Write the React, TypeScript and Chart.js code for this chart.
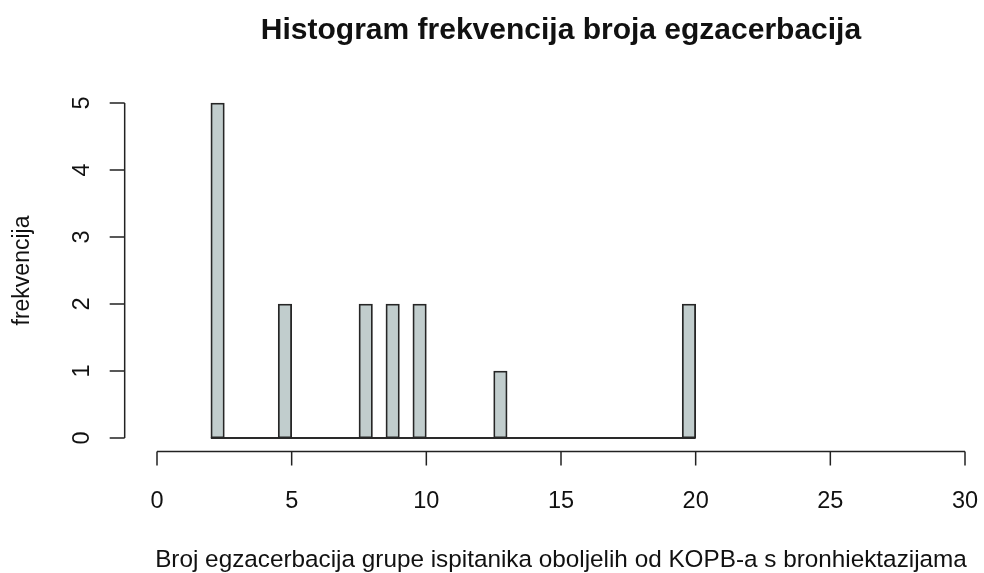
import React, { useEffect, useRef } from "react";
import { Chart, registerables } from "chart.js";

Chart.register(...registerables);

const titleText = "Histogram frekvencija broja egzacerbacija";
const xAxisTitle = "Broj egzacerbacija grupe ispitanika oboljelih od KOPB-a s bronhiektazijama";
const yAxisTitle = "frekvencija";

// histogram bin midpoints (bin width 0.5, from 2 to 20)
const binMids = [
  2.25, 2.75, 3.25, 3.75, 4.25, 4.75, 5.25, 5.75, 6.25, 6.75, 7.25, 7.75,
  8.25, 8.75, 9.25, 9.75, 10.25, 10.75, 11.25, 11.75, 12.25, 12.75, 13.25, 13.75,
  14.25, 14.75, 15.25, 15.75, 16.25, 16.75, 17.25, 17.75, 18.25, 18.75, 19.25, 19.75,
];
const counts = [
  5, 0, 0, 0, 0, 2, 0, 0, 0, 0, 0, 2,
  0, 2, 0, 2, 0, 0, 0, 0, 0, 1, 0, 0,
  0, 0, 0, 0, 0, 0, 0, 0, 0, 0, 0, 2,
];
const baseRange = [2, 20];
const xTicks = [0, 5, 10, 15, 20, 25, 30];
const yTicks = [0, 1, 2, 3, 4, 5];

const FONT = "'Liberation Sans', Arial, sans-serif";

const rAxesPlugin = {
  id: "rAxes",
  afterDraw(chart: any) {
    const ctx = chart.ctx as CanvasRenderingContext2D;
    const xs = chart.scales.x;
    const ys = chart.scales.y;
    const xPad = (xTicks[xTicks.length - 1] - xTicks[0]) * 0.04;
    const yPad = (yTicks[yTicks.length - 1] - yTicks[0]) * 0.04;
    const axisY = ys.getPixelForValue(yTicks[0] - yPad);
    const axisX = xs.getPixelForValue(xTicks[0] - xPad);
    ctx.save();
    ctx.strokeStyle = "#222";
    ctx.lineWidth = 1.5;
    ctx.lineCap = "butt";
    // x axis
    ctx.beginPath();
    const x0 = xs.getPixelForValue(xTicks[0]);
    const x1 = xs.getPixelForValue(xTicks[xTicks.length - 1]);
    ctx.moveTo(x0, axisY);
    ctx.lineTo(x1, axisY);
    xTicks.forEach((t) => {
      const p = xs.getPixelForValue(t);
      ctx.moveTo(p, axisY);
      ctx.lineTo(p, axisY + 14);
    });
    // y axis
    const y0 = ys.getPixelForValue(yTicks[0]);
    const y1 = ys.getPixelForValue(yTicks[yTicks.length - 1]);
    ctx.moveTo(axisX, y0);
    ctx.lineTo(axisX, y1);
    yTicks.forEach((t) => {
      const p = ys.getPixelForValue(t);
      ctx.moveTo(axisX, p);
      ctx.lineTo(axisX - 15, p);
    });
    ctx.stroke();

    ctx.fillStyle = "#111";
    ctx.font = `23.5px ${FONT}`;
    ctx.textAlign = "center";
    ctx.textBaseline = "alphabetic";
    xTicks.forEach((t) => {
      ctx.fillText(String(t), xs.getPixelForValue(t), 508);
    });
    yTicks.forEach((t) => {
      ctx.save();
      ctx.translate(89, ys.getPixelForValue(t));
      ctx.rotate(-Math.PI / 2);
      ctx.fillText(String(t), 0, 0);
      ctx.restore();
    });
    // axis titles
    const cx = (axisX + xs.getPixelForValue(xTicks[xTicks.length - 1] + xPad)) / 2;
    ctx.font = `24.3px ${FONT}`;
    ctx.fillText(xAxisTitle, cx, 567);
    const cy = (axisY + ys.getPixelForValue(yTicks[yTicks.length - 1] + yPad)) / 2;
    ctx.font = `23px ${FONT}`;
    ctx.save();
    ctx.translate(29, cy);
    ctx.rotate(-Math.PI / 2);
    ctx.fillText(yAxisTitle, 0, 0);
    ctx.restore();
    // main title
    ctx.font = `bold 30px ${FONT}`;
    ctx.fillText(titleText, cx, 39);
    ctx.restore();
  },
};

export default function App() {
  const ref = useRef<HTMLCanvasElement | null>(null);
  useEffect(() => {
    document.body.style.margin = "0";
    const canvas = ref.current!;
    const chart = new Chart(canvas, {
      type: "bar",
      data: {
        datasets: [
          {
            type: "line",
            data: baseRange.map((x) => ({ x, y: 0 })),
            borderColor: "#2a2a2a",
            borderWidth: 1.8,
            pointRadius: 0,
            clip: false,
            order: 2,
          } as any,
          {
            type: "bar",
            data: binMids.map((x, i) => ({ x, y: counts[i] })),
            backgroundColor: "#C1CDCD",
            borderColor: "#262626",
            borderWidth: 1.8,
            borderSkipped: false,
            barPercentage: 1,
            categoryPercentage: 1,
            clip: false,
            order: 1,
          },
        ],
      },
      options: {
        responsive: false,
        animation: false,
        layout: { padding: { left: 157, right: 19, top: 103, bottom: 135 } },
        plugins: {
          legend: { display: false },
          tooltip: { enabled: false },
          title: { display: false },
        },
        scales: {
          x: { type: "linear", min: 0, max: 30, display: false, offset: false },
          y: { type: "linear", min: 0, max: 5, display: false },
        },
      },
      plugins: [rAxesPlugin],
    });
    return () => chart.destroy();
  }, []);
  return (
    <div style={{ position: "fixed", left: 0, top: 0, width: 984, height: 573, background: "#fff" }}>
      <canvas ref={ref} width={984} height={573} style={{ display: "block" }} />
    </div>
  );
}
